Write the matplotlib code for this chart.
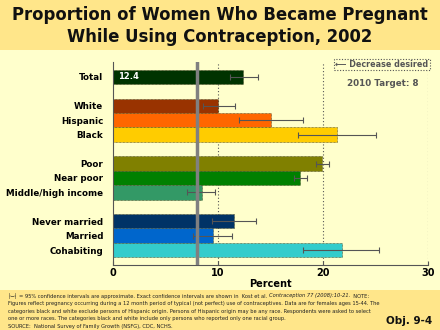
import matplotlib
matplotlib.use("Agg")
import matplotlib.pyplot as plt
from matplotlib.patches import Rectangle

# Data
categories = ["Total", "", "White", "Hispanic", "Black", "",
              "Poor", "Near poor", "Middle/high income", "",
              "Never married", "Married", "Cohabiting"]
values = [12.4, None, 10.0, 15.0, 21.3, None, 19.9, 17.8, 8.5, None, 11.5, 9.5, 21.8]
ci_low = [11.1, None, 8.6, 12.0, 17.6, None, 19.3, 17.2, 7.0, None, 9.4, 7.6, 18.1]
ci_high = [13.8, None, 11.6, 18.1, 25.0, None, 20.6, 18.5, 9.7, None, 13.6, 11.3, 25.3]
colors = ["#003300", None, "#993300", "#FF6600", "#FFCC00", None,
          "#808000", "#008000", "#339966", None, "#003366", "#0066CC", "#33CCCC"]
target = 8
x_ticks = [0, 10, 20, 30]

BG = "#FFFFCC"
BAND = "#FFE68A"
GRAY = "#555555"

fig = plt.figure(figsize=(4.4, 3.3), dpi=100, facecolor=BG)

# header and footer bands
fig.patches.append(Rectangle((0, 1 - 50 / 330), 1, 50 / 330, transform=fig.transFigure,
                             facecolor=BAND, edgecolor="none", zorder=0))
fig.patches.append(Rectangle((0, 0), 1, 40 / 330, transform=fig.transFigure,
                             facecolor=BAND, edgecolor="none", zorder=0))

fig.text(0.5, 1 - 15 / 330, "Proportion of Women Who Became Pregnant",
         ha="center", va="center", fontsize=11.9, fontweight="bold", color="#111111")
fig.text(0.5, 1 - 37 / 330, "While Using Contraception, 2002",
         ha="center", va="center", fontsize=11.9, fontweight="bold", color="#111111")

ax = fig.add_axes([113 / 440, 1 - 265 / 330, 315 / 440, 203 / 330])
ax.set_facecolor(BG)

for i, (v, lo, hi, c) in enumerate(zip(values, ci_low, ci_high, colors)):
    if v is None:
        continue
    ax.barh(i, v, height=1.0, color=c, edgecolor="#444422", linewidth=0.5,
            linestyle=(0, (1, 1)), zorder=2)
    ax.errorbar(v, i, xerr=[[v - lo], [hi - v]], fmt="none", ecolor=GRAY,
                elinewidth=0.8, capsize=2, capthick=0.8, zorder=3)

# value label on the total bar
ax.text(0.5, 0, f"{values[0]:.1f}", ha="left", va="center", color="white",
        fontsize=6, fontweight="bold", zorder=4)

# dotted grid at major ticks
for t in x_ticks[1:]:
    ax.axvline(t, color=GRAY, linestyle=(0, (1, 2)), linewidth=0.8, zorder=1)

# target line
ax.axvline(target, color="#808080", linewidth=2.5, zorder=5)

ax.set_xlim(0, 30)
ax.set_ylim(13.04, -1.04)
ax.set_xticks(x_ticks)
ax.set_xticklabels([str(t) for t in x_ticks], fontsize=7, fontweight="bold")
ax.tick_params(axis="x", direction="in", length=3, color=GRAY, pad=2)
ax.set_yticks([i for i, c in enumerate(categories) if c])
ax.set_yticklabels([c for c in categories if c], fontsize=6.3, fontweight="bold")
ax.tick_params(axis="y", length=0, pad=7)
for s in ["top", "right"]:
    ax.spines[s].set_visible(False)
ax.spines["left"].set_color(GRAY)
ax.spines["left"].set_linewidth(0.8)
ax.spines["bottom"].set_color(GRAY)
ax.spines["bottom"].set_linewidth(0.8)
ax.set_xlabel("Percent", fontsize=7, fontweight="bold", labelpad=1)

# note box and target text
fig.patches.append(Rectangle((334 / 440, 1 - 70 / 330), 96 / 440, 11 / 330,
                             transform=fig.transFigure, facecolor=BG,
                             edgecolor=GRAY, linestyle=(0, (1, 1.5)), linewidth=0.8, zorder=3))
fig.text(382 / 440, 1 - 64.5 / 330, "\u27f5 Decrease desired", ha="center", va="center",
         fontsize=5.8, color=GRAY, fontweight="bold")
fig.text(383 / 440, 1 - 84 / 330, f"2010 Target: {target}", ha="center", va="center",
         fontsize=6.3, color=GRAY, fontweight="bold")

# footnotes
fs = 3.7
y0 = 1 - 296 / 330
dy = 7.6 / 330
r = fig.canvas.get_renderer()
t1 = fig.text(8 / 440, y0, "\u251c\u2500\u2524 = 95% confidence intervals are approximate. Exact confidence intervals are shown in  Kost et al. ",
              fontsize=fs, va="center", ha="left", color="#222222")
bb = t1.get_window_extent(r)
t2 = fig.text(bb.x1 / 440, y0, "Contraception 77 (2008):10-21.", fontsize=fs, va="center",
              ha="left", style="italic", color="#222222")
bb2 = t2.get_window_extent(r)
fig.text(bb2.x1 / 440, y0, "  NOTE:", fontsize=fs, va="center", ha="left", color="#222222")
lines = [
    "Figures reflect pregnancy occurring during a 12 month period of typical (not perfect) use of contraceptives. Data are for females ages 15-44. The",
    "categories black and white exclude persons of Hispanic origin. Persons of Hispanic origin may be any race. Respondents were asked to select",
    "one or more races. The categories black and white include only persons who reported only one racial group.",
    "SOURCE:  National Survey of Family Growth (NSFG), CDC, NCHS.",
]
for k, ln in enumerate(lines):
    fig.text(8 / 440, y0 - (k + 1) * dy, ln, fontsize=fs, va="center", ha="left", color="#222222")

fig.text(432 / 440, 1 - 321 / 330, "Obj. 9-4", ha="right", va="center",
         fontsize=7.5, fontweight="bold", color="#111111")

fig.savefig("out.png", dpi=100, facecolor=BG)
